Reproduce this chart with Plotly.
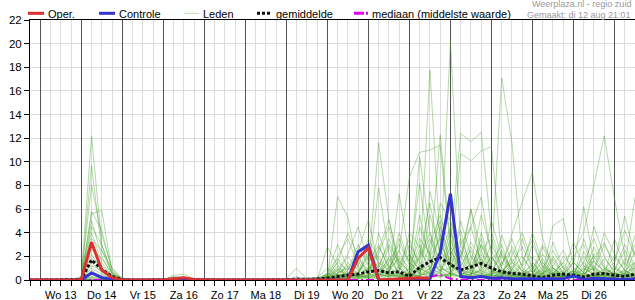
import plotly.graph_objects as go
import pandas as pd

# ---------------- data ----------------
tijden = pd.date_range("2025-08-12 18:00", periods=60, freq="6h")

dag_labels = ["Wo 13", "Do 14", "Vr 15", "Za 16", "Zo 17", "Ma 18", "Di 19",
              "Wo 20", "Do 21", "Vr 22", "Za 23", "Zo 24", "Ma 25", "Di 26"]
dag_grenzen = ["2025-08-%02d 00:00" % d for d in range(13, 28)]

oper = [0, 0, 0, 0, 0, 0, 3.2, 0.85, 0.2, 0, 0, 0, 0, 0, 0.1, 0.2, 0.05, 0, 0, 0,
        0, 0, 0, 0, 0, 0, 0, 0, 0, 0, 0, 0, 1.85, 2.7, 0, 0.05, 0.1, 0.1, 0.2, 0.15]

controle = [0, 0, 0, 0, 0, 0, 0.6, 0.2, 0.05, 0, 0, 0, 0, 0, 0, 0, 0, 0, 0, 0,
            0, 0, 0, 0, 0, 0, 0, 0, 0, 0, 0, 0, 2.4, 2.95, 0, 0, 0.05, 0.05, 0, 0.1,
            2.3, 7.3, 0.3, 0.2, 0.3, 0.15, 0.2, 0.1, 0.1, 0.05, 0.05, 0.05, 0.1, 0.35, 0.05, 0.15,
            0.1, 0.05, 0.05, 0.1]

gemiddelde = [0, 0, 0, 0, 0, 0.05, 1.7, 0.9, 0.3, 0.05, 0, 0, 0, 0.02, 0.08, 0.12, 0.03, 0, 0, 0,
              0, 0, 0, 0, 0, 0.02, 0.08, 0.05, 0.1, 0.15, 0.3, 0.4, 0.5, 0.7, 0.8, 0.6, 0.7, 0.3, 1.07, 1.55,
              1.9, 1.3, 0.85, 1.1, 1.4, 1.0, 0.7, 0.55, 0.5, 0.35, 0.2, 0.4, 0.5, 0.4, 0.25, 0.5,
              0.55, 0.4, 0.3, 0.5]

mediaan = [0, 0, 0, 0, 0, 0, 0.05, 0, 0, 0, 0, 0, 0, 0, 0, 0, 0, 0, 0, 0,
           0, 0, 0, 0, 0, 0, 0, 0, 0, 0, 0, 0.03, 0.05, 0.05, 0.04, 0.02, 0, 0, 0.1, 0.3,
           0.45, 0.1, 0.02, 0, 0, 0, 0, 0, 0, 0, 0, 0, 0, 0.05, 0, 0, 0, 0, 0, 0]

lid_01 = [0, 0, 0, 0, 0, 0.2, 12.2, 3.0, 0.5, 0, 0, 0, 0, 0, 0, 0, 0, 0, 0, 0, 0, 0, 0, 0, 0, 0, 0, 0,
          0, 0.2, 7.05, 5.3, 1.0, 0.5, 2.0, 0.8, 0.2, 0.5, 3.0, 1.5, 0.8, 0.3, 1.2, 2.5, 0.6, 0.2, 0.8, 1.5, 0.4,
          0.2, 0.6, 1.0, 0.3, 0.1, 0.5, 1.2, 0.4, 0.2, 0.8, 1.5]
lid_02 = [0, 0, 0, 0, 0, 0.1, 9.7, 2.5, 0.6, 0.1, 0, 0, 0, 0, 0, 0, 0, 0, 0, 0, 0, 0, 0, 0, 0, 0, 0, 0,
          0, 2.8, 1.2, 0.5, 0.3, 1.0, 11.6, 5.1, 1.5, 0.8, 2.0, 4.0, 1.2, 0.5, 2.5, 0.8, 3.5, 1.0, 0.4, 0.9, 2.0,
          0.6, 0.2, 0.5, 1.5, 0.4, 0.2, 0.6, 0.3, 1.2, 0.5, 0.2]
lid_03 = [0, 0, 0, 0, 0, 0.3, 8.0, 3.8, 1.0, 0.1, 0, 0, 0, 0, 0.4, 0.5, 0.1, 0, 0, 0, 0, 0, 0, 0, 0, 0, 0, 0,
          0.1, 0.5, 2.0, 3.5, 1.2, 0.6, 7.8, 2.2, 0.5, 0.2, 1.0, 17.8, 3.0, 1.5, 0.6, 2.0, 1.2, 0.5, 2.5, 0.8, 0.2,
          0.1, 0.3, 1.8, 0.5, 0.2, 1.0, 0.4, 0.1, 0.3, 0.6, 1.0]
lid_04 = [0, 0, 0, 0, 0.1, 0.1, 5.8, 4.2, 0.8, 0, 0, 0, 0, 0, 0, 0, 0, 0, 0, 0, 0, 0, 0, 0, 0, 0, 0, 0,
          0, 0.3, 1.5, 0.8, 2.5, 5.1, 1.2, 0.4, 7.3, 2.0, 0.8, 1.5, 12.3, 3.0, 12.4, 11.7, 12.5, 4.0, 1.5, 0.6, 0.3,
          1.0, 2.2, 0.8, 0.4, 0.2, 0.6, 2.8, 1.0, 0.4, 0.2, 0.5]
lid_05 = [0, 0, 0, 0, 0, 0.2, 5.6, 5.9, 0.7, 0.1, 0, 0, 0, 0, 0, 0, 0, 0, 0, 0, 0, 0, 0, 0, 0, 0, 0, 0,
          0, 0.1, 0.6, 2.0, 0.8, 1.5, 3.0, 1.0, 2.5, 8.7, 10.8, 11.0, 11.4, 2.5, 1.0, 3.2, 1.8, 0.6, 1.2, 3.5, 1.0,
          0.4, 0.8, 0.3, 1.2, 0.5, 2.0, 0.7, 0.3, 0.2, 1.0, 3.0]
lid_06 = [0, 0, 0, 0, 0, 0, 5.0, 2.0, 0.3, 0, 0, 0, 0, 0, 0, 0, 0, 0, 0.1, 0, 0, 0, 0, 0, 0, 0, 0, 0,
          0, 0.2, 1.0, 0.4, 1.8, 0.8, 2.5, 5.1, 1.2, 0.5, 10.4, 4.0, 1.5, 20.2, 3.0, 1.0, 2.2, 0.8, 0.3, 1.5, 2.8,
          1.0, 0.5, 0.2, 0.6, 0.3, 1.5, 0.5, 0.8, 2.0, 0.8, 0.3]
lid_07 = [0, 0, 0, 0, 0, 0.1, 4.5, 3.0, 0.5, 0, 0, 0, 0, 0, 0, 0, 0, 0, 0, 0, 0, 0, 0, 0, 0, 0, 0, 0,
          0.2, 1.0, 0.4, 0.2, 0.5, 2.2, 1.0, 0.6, 3.5, 1.2, 8.2, 2.0, 0.8, 1.0, 10.7, 10.1, 10.9, 11.3, 2.0, 0.8, 0.5,
          0.3, 1.2, 0.6, 0.2, 0.8, 0.4, 1.6, 0.6, 0.2, 0.4, 1.2]
lid_08 = [0, 0, 0, 0, 0, 0, 4.0, 1.5, 0.2, 0, 0, 0, 0, 0, 0.3, 0.2, 0, 0, 0, 0, 0, 0, 0, 0, 0, 0, 0, 0,
          0, 0.4, 1.8, 0.6, 0.3, 1.0, 0.5, 2.8, 0.9, 3.0, 1.5, 0.6, 4.5, 2.0, 0.8, 1.2, 3.0, 1.5, 17.1, 11.6, 2.0,
          0.8, 0.3, 1.0, 0.5, 0.2, 0.6, 0.3, 1.0, 0.4, 0.2, 0.6]
lid_09 = [0, 0, 0, 0, 0, 0.2, 3.5, 2.5, 1.0, 0.1, 0, 0, 0, 0, 0, 0, 0, 0, 0, 0, 0, 0, 0, 0, 0, 0, 0, 0,
          0, 0, 0.5, 1.2, 0.4, 0.3, 1.5, 0.8, 2.0, 1.0, 3.5, 2.2, 5.0, 1.2, 0.5, 2.8, 1.0, 3.0, 1.2, 4.0, 6.6,
          9.1, 3.5, 1.0, 0.4, 0.3, 0.8, 2.0, 0.6, 0.5, 1.5, 0.4]
lid_10 = [0, 0, 0, 0, 0, 0, 3.0, 1.0, 0.3, 0, 0, 0, 0, 0, 0, 0, 0, 0, 0, 0, 0, 0, 0, 0, 0, 0.1, 1.0, 0.1,
          0.1, 0.3, 0.2, 0.8, 3.0, 1.2, 0.6, 1.8, 0.5, 0.3, 2.5, 1.0, 0.6, 2.8, 1.5, 0.5, 1.8, 0.6, 2.2, 1.0, 0.3,
          1.5, 0.6, 4.6, 5.2, 1.2, 6.2, 1.5, 0.8, 0.6, 0.3, 1.0]
lid_11 = [0, 0, 0, 0, 0, 0.1, 2.6, 1.8, 0.6, 0, 0, 0, 0, 0, 0, 0, 0, 0, 0, 0, 0, 0, 0, 0, 0, 0, 0, 0,
          0, 0.2, 0.8, 0.3, 0.6, 2.0, 0.8, 0.4, 1.0, 0.4, 1.8, 3.5, 1.0, 0.6, 2.0, 4.5, 1.5, 0.5, 0.8, 0.3, 1.2,
          2.0, 0.8, 0.5, 1.5, 2.5, 4.0, 8.0, 12.2, 6.9, 2.0, 0.8]
lid_12 = [0, 0, 0, 0, 0, 0, 2.2, 0.8, 0.1, 0, 0, 0, 0, 0, 0, 0.3, 0, 0, 0, 0, 0, 0, 0, 0, 0, 0, 0, 0,
          0, 0.1, 0.3, 0.5, 0.2, 0.4, 1.2, 3.0, 1.5, 0.6, 0.3, 5.5, 2.5, 1.0, 3.5, 1.2, 0.5, 2.0, 0.6, 1.8, 0.8,
          0.3, 1.0, 2.5, 1.0, 0.4, 1.2, 0.8, 3.0, 1.5, 5.4, 2.0]
lid_13 = [0, 0, 0, 0, 0, 0, 1.8, 1.2, 0.4, 0, 0, 0, 0, 0, 0, 0, 0, 0, 0, 0, 0, 0, 0, 0, 0, 0, 0, 0,
          0, 0.6, 0.2, 1.5, 0.4, 0.2, 0.8, 0.5, 4.0, 1.5, 0.6, 2.0, 3.5, 0.8, 5.0, 2.0, 0.8, 0.4, 1.5, 2.5, 0.6,
          0.8, 0.4, 0.2, 2.0, 1.0, 0.5, 1.0, 0.4, 3.5, 1.2, 7.0]
lid_14 = [0, 0, 0, 0, 0, 0.1, 1.5, 0.6, 0.2, 0, 0, 0, 0, 0, 0, 0, 0, 0, 0, 0, 0, 0, 0, 0, 0, 0, 0, 0,
          0, 0.1, 1.2, 0.2, 0.6, 3.0, 1.5, 0.3, 0.8, 2.2, 0.8, 1.2, 0.4, 3.5, 0.8, 0.3, 4.0, 1.2, 0.5, 0.8, 3.5,
          1.0, 0.3, 0.6, 0.4, 2.0, 3.0, 0.8, 0.5, 1.0, 0.4, 2.5]
lid_15 = [0, 0, 0, 0, 0, 0, 1.2, 0.9, 0.3, 0, 0, 0, 0, 0, 0, 0, 0, 0, 0, 0, 0, 0, 0, 0, 0, 0, 0, 0.2,
          0.2, 0.4, 0.6, 1.0, 0.2, 0.5, 2.8, 1.0, 0.4, 0.2, 1.2, 0.5, 2.0, 0.5, 1.5, 6.0, 2.5, 0.8, 0.3, 1.2, 0.5,
          3.0, 1.2, 0.4, 0.8, 0.3, 0.2, 2.2, 1.0, 0.5, 0.8, 0.3]
lid_16 = [0, 0, 0, 0, 0, 0, 1.0, 0.5, 0, 0, 0, 0, 0, 0, 0, 0, 0, 0, 0, 0, 0, 0, 0, 0, 0, 0, 0, 0,
          0, 0, 0.3, 0.6, 1.5, 0.6, 0.2, 2.0, 0.6, 4.0, 2.8, 0.8, 0.3, 0.6, 0.3, 1.5, 5.5, 2.5, 1.0, 0.4, 0.2,
          0.5, 1.8, 0.6, 0.3, 0.8, 1.5, 3.5, 1.2, 0.4, 0.2, 0.8]
lid_17 = [0, 0, 0, 0, 0, 0, 0.8, 0.3, 0.1, 0, 0, 0, 0, 0, 0, 0, 0, 0, 0, 0, 0, 0, 0, 0, 0, 0, 0, 0,
          0, 0.2, 0.1, 0.4, 0.8, 0.3, 4.0, 1.2, 0.3, 0.6, 5.5, 1.5, 0.8, 4.2, 0.6, 0.3, 1.0, 5.0, 2.0, 0.6, 0.3,
          0.2, 0.5, 1.2, 2.5, 0.6, 0.3, 0.5, 1.8, 0.8, 3.0, 1.2]
lid_18 = [0, 0, 0, 0, 0, 0, 0.5, 0.4, 0.2, 0, 0, 0, 0, 0, 0, 0, 0, 0, 0, 0, 0, 0, 0, 0, 0, 0, 0, 0,
          0, 0.3, 0.5, 0.2, 0.3, 0.8, 0.4, 0.8, 1.8, 0.5, 0.2, 7.5, 4.0, 1.5, 0.4, 0.8, 0.6, 0.3, 3.8, 1.5, 0.8,
          0.4, 0.2, 0.8, 0.3, 1.5, 0.6, 0.3, 0.6, 0.3, 0.6, 0.4]
lid_19 = [0, 0, 0, 0, 0, 0, 0.3, 0.2, 0, 0, 0, 0, 0, 0, 0, 0, 0, 0, 0, 0, 0, 0, 0, 0, 0, 0, 0, 0,
          0, 0.1, 0.4, 0.2, 0.1, 0.2, 0.5, 0.3, 0.6, 0.4, 0.8, 0.3, 6.5, 5.0, 2.0, 0.6, 0.3, 0.5, 0.8, 0.4, 0.2,
          0.6, 1.5, 0.4, 0.2, 0.4, 1.0, 0.5, 0.3, 0.6, 0.3, 0.2]
lid_20 = [0, 0, 0, 0, 0, 0, 0.6, 0.2, 0, 0, 0, 0, 0, 0, 0, 0, 0, 0, 0, 0, 0, 0, 0, 0, 0, 0, 0.3, 0,
          0, 0, 0.2, 0.3, 0.5, 0.2, 0.3, 0.6, 0.3, 0.2, 0.4, 0.6, 0.3, 0.5, 0.3, 0.5, 0.8, 0.3, 0.5, 0.2, 0.4,
          0.2, 0.3, 0.6, 0.2, 0.5, 0.2, 0.4, 0.2, 0.3, 0.5, 0.2]
lid_21 = [0, 0, 0, 0, 0, 0, 0.2, 0.1, 0, 0, 0, 0, 0, 0, 0, 0, 0, 0, 0, 0, 0, 0, 0, 0, 0, 0, 0, 0,
          0, 0.1, 0.3, 0.1, 0.2, 0.4, 0.2, 0.5, 0.2, 0.3, 0.6, 0.2, 0.4, 0.3, 0.6, 0.4, 0.2, 0.4, 0.3, 0.6, 0.3,
          0.5, 0.2, 0.3, 0.5, 0.2, 0.4, 0.3, 0.6, 0.4, 0.2, 0.5]
lid_22 = [0, 0, 0, 0, 0, 0, 0.1, 0, 0, 0, 0, 0, 0, 0, 0, 0, 0, 0, 0, 0, 0, 0, 0, 0, 0, 0, 0, 0,
          0, 0.2, 0.1, 0.3, 0.1, 0.3, 0.6, 0.2, 0.5, 0.4, 1.0, 0.5, 0.2, 0.6, 0.2, 0.3, 0.5, 0.2, 0.4, 0.3, 0.2,
          0.4, 0.6, 0.2, 0.3, 0.3, 0.2, 0.5, 0.3, 0.2, 0.4, 0.3]
lid_23 = [0, 0, 0, 0, 0, 0, 0, 0, 0, 0, 0, 0, 0, 0, 0, 0, 0, 0, 0, 0, 0, 0, 0, 0, 0, 0, 0, 0,
          0.1, 0, 0.2, 0.5, 0.3, 0.1, 0.3, 0.4, 0.2, 0.6, 0.3, 0.8, 1.2, 0.4, 0.8, 0.6, 0.3, 0.6, 0.2, 0.4, 0.5,
          0.3, 0.2, 0.4, 0.2, 0.6, 0.3, 0.2, 0.4, 0.5, 0.3, 0.2]
lid_24 = [0, 0, 0, 0, 0, 0, 0, 0, 0, 0, 0, 0, 0, 0, 0, 0, 0, 0, 0, 0, 0, 0, 0, 0, 0, 0, 0, 0,
          0, 0, 0.1, 0.2, 0.4, 0.2, 0.1, 0.3, 0.4, 0.2, 0.5, 0.4, 0.6, 0.2, 0.4, 1.0, 0.4, 0.3, 0.6, 0.2, 0.3,
          0.2, 0.4, 0.2, 0.3, 0.4, 0.2, 0.3, 0.2, 0.2, 0.3, 0.4]
lid_25 = [0, 0, 0, 0, 0, 0, 0.2, 0.1, 0, 0, 0, 0, 0, 0, 0, 0, 0, 0, 0, 0, 0, 0, 0, 0, 0, 0, 0, 0,
          0, 0.3, 1.5, 4.0, 2.0, 0.5, 0.3, 1.0, 2.5, 0.5, 0.3, 1.0, 2.5, 1.5, 0.5, 0.3, 2.5, 3.5, 1.0, 0.3, 0.5,
          0.3, 2.8, 1.0, 0.4, 0.2, 3.5, 1.0, 0.5, 0.3, 1.8, 0.6]
lid_26 = [0, 0, 0, 0, 0, 0, 0, 0, 0, 0, 0, 0, 0, 0, 0, 0, 0, 0, 0, 0, 0, 0, 0, 0, 0, 0, 0, 0,
          0, 0.5, 3.0, 1.0, 0.4, 2.5, 1.0, 3.5, 1.0, 0.3, 4.5, 2.0, 0.6, 0.3, 2.0, 6.0, 1.0, 0.4, 0.3, 2.8, 1.2,
          4.0, 1.5, 0.5, 0.3, 0.8, 0.4, 0.2, 0.5, 1.5, 4.2, 2.0]
lid_27 = [0, 0, 0, 0, 0, 0, 0, 0, 0, 0, 0, 0, 0, 0, 0, 0, 0, 0, 0, 0, 0, 0, 0, 0, 0, 0, 0, 0,
          0, 0.2, 0.8, 2.2, 4.5, 1.5, 0.5, 0.3, 1.2, 3.5, 1.0, 0.5, 0.8, 2.0, 4.2, 0.8, 0.3, 1.5, 3.0, 0.5, 0.3,
          0.8, 3.0, 1.5, 0.5, 1.5, 0.6, 4.5, 2.0, 0.6, 0.3, 1.5]
lid_28 = [0, 0, 0, 0, 0, 0, 0, 0, 0, 0, 0, 0, 0, 0, 0, 0, 0, 0, 0, 0, 0, 0, 0, 0, 0, 0, 0, 0,
          0, 0.1, 0.5, 0.3, 1.2, 3.5, 1.8, 0.6, 0.3, 1.0, 0.6, 3.0, 5.5, 2.5, 0.8, 0.4, 3.0, 1.0, 0.5, 2.0, 4.0,
          1.5, 0.4, 3.2, 1.0, 0.3, 2.4, 0.8, 4.0, 2.2, 0.8, 0.4]
lid_29 = [0, 0, 0, 0, 0, 0, 0, 0, 0, 0, 0, 0, 0, 0, 0, 0, 0, 0, 0, 0, 0, 0, 0, 0, 0, 0, 0, 0,
          0, 0.3, 0.2, 0.6, 0.3, 0.8, 2.2, 4.5, 1.0, 0.4, 2.0, 6.5, 2.0, 4.5, 1.0, 0.5, 0.8, 2.0, 0.6, 0.3, 1.5,
          3.5, 1.0, 0.4, 0.2, 0.6, 0.3, 1.8, 3.2, 1.0, 0.5, 3.8]
lid_30 = [0, 0, 0, 0, 0, 0, 0, 0, 0, 0, 0, 0, 0, 0, 0, 0, 0, 0, 0, 0, 0, 0, 0, 0, 0, 0, 0, 0,
          0, 0.4, 0.9, 0.3, 0.2, 1.2, 0.4, 1.5, 3.0, 1.5, 0.5, 1.0, 3.8, 0.6, 3.0, 4.5, 7.0, 2.0, 0.8, 0.3, 0.6,
          1.2, 0.5, 2.0, 0.6, 3.2, 1.2, 0.4, 0.3, 0.8, 2.5, 1.0]

leden = [lid_01, lid_02, lid_03, lid_04, lid_05, lid_06, lid_07, lid_08, lid_09, lid_10,
         lid_11, lid_12, lid_13, lid_14, lid_15, lid_16, lid_17, lid_18, lid_19, lid_20,
         lid_21, lid_22, lid_23, lid_24, lid_25, lid_26, lid_27, lid_28, lid_29, lid_30]

# ---------------- styles ----------------
ROOD = "#d93030"
BLAUW = "#3434d0"
GROEN = "rgba(60,155,30,0.38)"
MAGENTA = "#e000e8"
GRID = "#dcdcdc"
DONKER = "#555555"
FONT = "Liberation Sans, Arial, sans-serif"

# 6-hourly ticks (light grid) excluding midnights; labels only at noon
tick_6u = [t for t in tijden if t.hour != 0]
tick_tekst = []
for t in tick_6u:
    if t.hour == 12:
        tick_tekst.append(dag_labels[t.day - 13] if 13 <= t.day <= 26 else "")
    else:
        tick_tekst.append("")

fig = go.Figure()

for lid in leden:
    fig.add_trace(go.Scatter(x=tijden, y=lid, mode="lines",
                             line=dict(color=GROEN, width=1), showlegend=False, hoverinfo="skip"))

fig.add_trace(go.Scatter(x=tijden, y=mediaan, mode="lines",
                         line=dict(color=MAGENTA, width=2, dash="8px,3px,2px,3px"), showlegend=False))
fig.add_trace(go.Scatter(x=tijden, y=gemiddelde, mode="lines",
                         line=dict(color="#111111", width=3, dash="3px,2px"), showlegend=False))
fig.add_trace(go.Scatter(x=tijden, y=controle, mode="lines",
                         line=dict(color=BLAUW, width=3), showlegend=False))
fig.add_trace(go.Scatter(x=tijden[:len(oper)], y=oper, mode="lines",
                         line=dict(color=ROOD, width=3), showlegend=False))
# empty helper trace so the overlaid day-boundary axis is drawn
fig.add_trace(go.Scatter(x=[tijden[0]], y=[None], xaxis="x2", mode="lines",
                         showlegend=False, hoverinfo="skip"))

L, T, H, W = 30, 20, 260, 605


def px_x(xp):
    return (xp - L) / W


def px_y(yp):
    return (T + H - yp) / H


shapes = []
legend_items = [
    ("Oper.", 28, 44, dict(color=ROOD, width=3)),
    ("Controle", 99, 115, dict(color=BLAUW, width=3)),
    ("Leden", 184, 199, dict(color="#b9dcb0", width=1)),
    ("gemiddelde", 257, 272, dict(color="#111111", width=3, dash="3px,2px")),
    ("mediaan (middelste waarde)", 354, 368, dict(color=MAGENTA, width=3, dash="10px,2px,2px,2px")),
]
annotations = []
for naam, x0, x1, ln in legend_items:
    shapes.append(dict(type="line", xref="paper", yref="paper",
                       x0=px_x(x0), x1=px_x(x1), y0=px_y(13.3), y1=px_y(13.3), line=ln, layer="above"))
    annotations.append(dict(text=naam, xref="paper", yref="paper", x=px_x(x1 + 2), y=px_y(13.5),
                            xanchor="left", yanchor="middle", showarrow=False,
                            font=dict(family=FONT, size=11, color="#000")))

annotations.append(dict(text="Weerplaza.nl - regio zuid", xref="paper", yref="paper",
                        x=px_x(633), y=px_y(4.5), xanchor="right", yanchor="middle", showarrow=False,
                        font=dict(family=FONT, size=9, color="#999999")))
annotations.append(dict(text="Gemaakt: di 12 aug 21:01", xref="paper", yref="paper",
                        x=px_x(633), y=px_y(15), xanchor="right", yanchor="middle", showarrow=False,
                        font=dict(family=FONT, size=9, color="#999999")))

bereik = ["2025-08-12 18:00", "2025-08-27 12:00"]

fig.update_layout(
    width=635, height=300,
    margin=dict(l=L, r=0, t=T, b=20, pad=0),
    paper_bgcolor="white", plot_bgcolor="white",
    font=dict(family=FONT, size=11, color="#000"),
    showlegend=False,
    shapes=shapes,
    annotations=annotations,
    xaxis=dict(
        type="date", range=bereik,
        tickmode="array", tickvals=tick_6u, ticktext=tick_tekst,
        ticks="outside", ticklen=5, tickcolor="#000", tickwidth=1,
        showgrid=True, gridcolor=GRID, gridwidth=1,
        showline=True, linecolor="#000", linewidth=1, mirror=True,
        zeroline=False, layer="below traces",
        tickfont=dict(family=FONT, size=11, color="#000"),
        fixedrange=True,
    ),
    xaxis2=dict(
        type="date", range=bereik, overlaying="x", matches="x", side="bottom",
        tickmode="array", tickvals=dag_grenzen, ticktext=[""] * len(dag_grenzen),
        ticks="outside", ticklen=5, tickcolor="#000", tickwidth=1,
        showgrid=True, gridcolor=DONKER, gridwidth=1,
        showline=False, zeroline=False, showticklabels=False,
        fixedrange=True,
    ),
    yaxis=dict(
        range=[0, 22], dtick=2, tick0=0,
        ticks="outside", ticklen=5, tickcolor="#000",
        showgrid=True, gridcolor=GRID, gridwidth=1,
        showline=True, linecolor="#000", linewidth=1, mirror=False,
        zeroline=False, layer="below traces",
        tickfont=dict(family=FONT, size=11.5, color="#000"),
        fixedrange=True,
    ),
)

fig.write_html("out.html", config={"displayModeBar": False})
